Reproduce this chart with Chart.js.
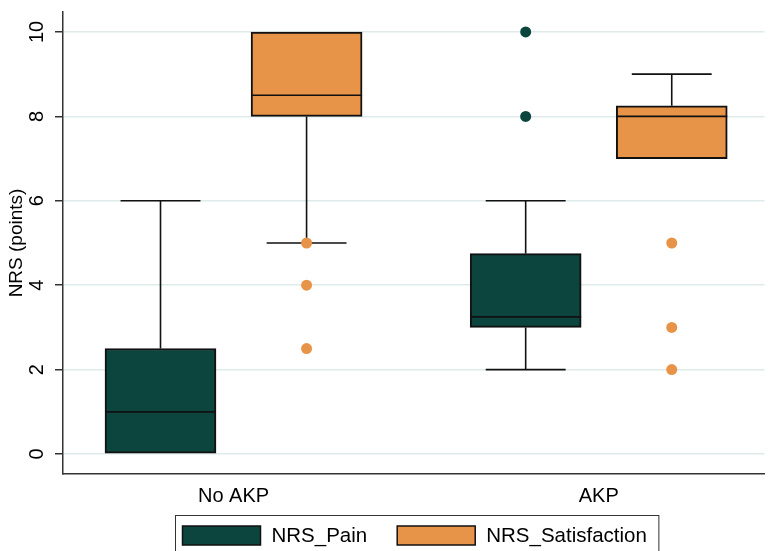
<!DOCTYPE html>
<html>
<head>
<meta charset="utf-8">
<script src="https://cdn.jsdelivr.net/npm/chart.js@4/dist/chart.umd.min.js"></script>
<style>
  html, body { margin: 0; padding: 0; background: #fff; }
  #wrap { width: 770px; height: 551px; }
</style>
</head>
<body>
<div id="wrap"><canvas id="box"></canvas></div>
<script>
// groups on the x axis
var groups = ['No AKP', 'AKP'];
var yTicks = [0, 2, 4, 6, 8, 10];

// NRS_Pain box stats per group
var painLo  = [0, 2];
var painQ1  = [0, 3];
var painMed = [1, 3.25];
var painQ3  = [2.5, 4.75];
var painHi  = [6, 6];
var painOut = [[], [8, 10]];

// NRS_Satisfaction box stats per group
var satLo  = [5, 7];
var satQ1  = [8, 7];
var satMed = [8.5, 8];
var satQ3  = [10, 8.25];
var satHi  = [10, 9];
var satOut = [[5, 4, 2.5], [5, 3, 2]];

var painColor = '#0b453e';
var satColor = '#e89448';
var FONT = "'Liberation Sans', Arial, sans-serif";

var shift = 0.2; // pain left of group centre, satisfaction right

function boxData(q1, q3, off) {
  return groups.map(function(g, i) { return { x: i + off, y: [q1[i], q3[i]] }; });
}
function outData(out, off) {
  var pts = [];
  out.forEach(function(list, i) {
    list.forEach(function(v) { pts.push({ x: i + off, y: v }); });
  });
  return pts;
}

var datasets = [
  {
    type: 'bar', label: 'NRS_Pain', order: 1,
    data: boxData(painQ1, painQ3, -shift),
    stats: { lo: painLo, med: painMed, hi: painHi },
    backgroundColor: painColor, borderColor: '#111', borderWidth: 2, borderSkipped: false
  },
  {
    type: 'bar', label: 'NRS_Satisfaction', order: 1,
    data: boxData(satQ1, satQ3, shift),
    stats: { lo: satLo, med: satMed, hi: satHi },
    backgroundColor: satColor, borderColor: '#111', borderWidth: 2, borderSkipped: false
  },
  {
    type: 'scatter', label: 'pain outliers', order: 0,
    data: outData(painOut, -shift),
    pointRadius: 5.5, pointBackgroundColor: painColor, pointBorderWidth: 0
  },
  {
    type: 'scatter', label: 'sat outliers', order: 0,
    data: outData(satOut, shift),
    pointRadius: 5.5, pointBackgroundColor: satColor, pointBorderWidth: 0
  }
];

// whiskers + median drawn right after each box dataset
var whiskers = {
  id: 'whiskers',
  afterDatasetDraw: function(chart, args) {
    var ds = chart.data.datasets[args.index];
    if (!ds.stats) return;
    var ctx = chart.ctx, ys = chart.scales.y, xs = chart.scales.x;
    var meta = args.meta;
    ctx.save();
    ctx.strokeStyle = '#111';
    ctx.lineWidth = 1.6;
    ds.data.forEach(function(d, i) {
      var bar = meta.data[i];
      var cx = xs.getPixelForValue(d.x);
      var half = bar.width / 2;
      var cap = half * 0.72;
      var q1 = ys.getPixelForValue(d.y[0]), q3 = ys.getPixelForValue(d.y[1]);
      var lo = ys.getPixelForValue(ds.stats.lo[i]), hi = ys.getPixelForValue(ds.stats.hi[i]);
      var med = ys.getPixelForValue(ds.stats.med[i]);
      ctx.beginPath();
      if (ds.stats.hi[i] > d.y[1]) {
        ctx.moveTo(cx, q3); ctx.lineTo(cx, hi);
        ctx.moveTo(cx - cap, hi); ctx.lineTo(cx + cap, hi);
      }
      if (ds.stats.lo[i] < d.y[0]) {
        ctx.moveTo(cx, q1); ctx.lineTo(cx, lo);
        ctx.moveTo(cx - cap, lo); ctx.lineTo(cx + cap, lo);
      }
      ctx.moveTo(cx - half, med); ctx.lineTo(cx + half, med);
      ctx.stroke();
    });
    ctx.restore();
  }
};

// boxed legend under the axis
var boxLegend = {
  id: 'boxLegend',
  afterDraw: function(chart) {
    var ctx = chart.ctx, area = chart.chartArea;
    var items = chart.data.datasets.filter(function(d) { return d.type === 'bar'; });
    var sw = 78, sh = 19, gapText = 11, gapItem = 30, padL = 7, padR = 12;
    ctx.save();
    ctx.font = '20.5px ' + FONT;
    var widths = items.map(function(d) { return sw + gapText + ctx.measureText(d.label).width; });
    var total = widths.reduce(function(a, b) { return a + b; }, 0) + gapItem * (items.length - 1);
    var bw = total + padL + padR;
    var bx = Math.round((area.left + area.right) / 2 + 3 - bw / 2) + 0.5;
    var by = 515.5;
    ctx.strokeStyle = '#333';
    ctx.lineWidth = 1;
    ctx.strokeRect(bx, by, bw, 60);
    var x = bx + padL, cy = by + 20;
    items.forEach(function(d, i) {
      ctx.fillStyle = d.backgroundColor;
      ctx.fillRect(x, cy - sh / 2, sw, sh);
      ctx.strokeStyle = '#111';
      ctx.lineWidth = 1.5;
      ctx.strokeRect(x, cy - sh / 2, sw, sh);
      ctx.fillStyle = '#000';
      ctx.textBaseline = 'middle';
      ctx.textAlign = 'left';
      ctx.fillText(d.label, x + sw + gapText, cy + 1);
      x += widths[i] + gapItem;
    });
    ctx.restore();
  }
};

var ctx = document.getElementById('box').getContext('2d');
var chart = new Chart(ctx, {
  data: { datasets: datasets },
  options: {
    responsive: true,
    maintainAspectRatio: false,
    animation: false,
    layout: { padding: { top: 12, right: 0, bottom: 0, left: 0 } },
    datasets: { bar: { grouped: false, barThickness: 111 } },
    plugins: {
      legend: { display: false },
      tooltip: { enabled: false }
    },
    scales: {
      x: {
        type: 'linear',
        offset: false,
        min: -0.467,
        max: 1.454,
        afterBuildTicks: function(s) { s.ticks = groups.map(function(g, i) { return { value: i }; }); },
        afterFit: function(s) { s.height = 77; s.paddingLeft = 0; s.paddingRight = 0; },
        ticks: {
          callback: function(v) { return groups[v]; },
          font: { family: FONT, size: 20 },
          color: '#000',
          padding: 10,
          maxRotation: 0
        },
        grid: { display: false, drawTicks: false, offset: false },
        border: { display: true, color: '#333', width: 1.5 }
      },
      y: {
        type: 'linear',
        min: -0.473,
        max: 10.473,
        afterBuildTicks: function(s) { s.ticks = yTicks.map(function(v) { return { value: v }; }); },
        afterFit: function(s) { s.width = 63; s.paddingTop = 0; s.paddingBottom = 0; },
        ticks: {
          font: { family: FONT, size: 20 },
          color: '#000',
          minRotation: 90,
          maxRotation: 90,
          crossAlign: 'center',
          padding: 6
        },
        grid: { color: '#dfeaea', lineWidth: 1.5, tickColor: '#333', tickLength: 8, tickWidth: 1.5 },
        border: { display: true, color: '#333', width: 1.5 },
        title: {
          display: true,
          text: 'NRS (points)',
          font: { family: FONT, size: 19 },
          color: '#000',
          padding: { top: 5, bottom: 0 }
        }
      }
    }
  },
  plugins: [whiskers, boxLegend]
});
</script>
</body>
</html>
